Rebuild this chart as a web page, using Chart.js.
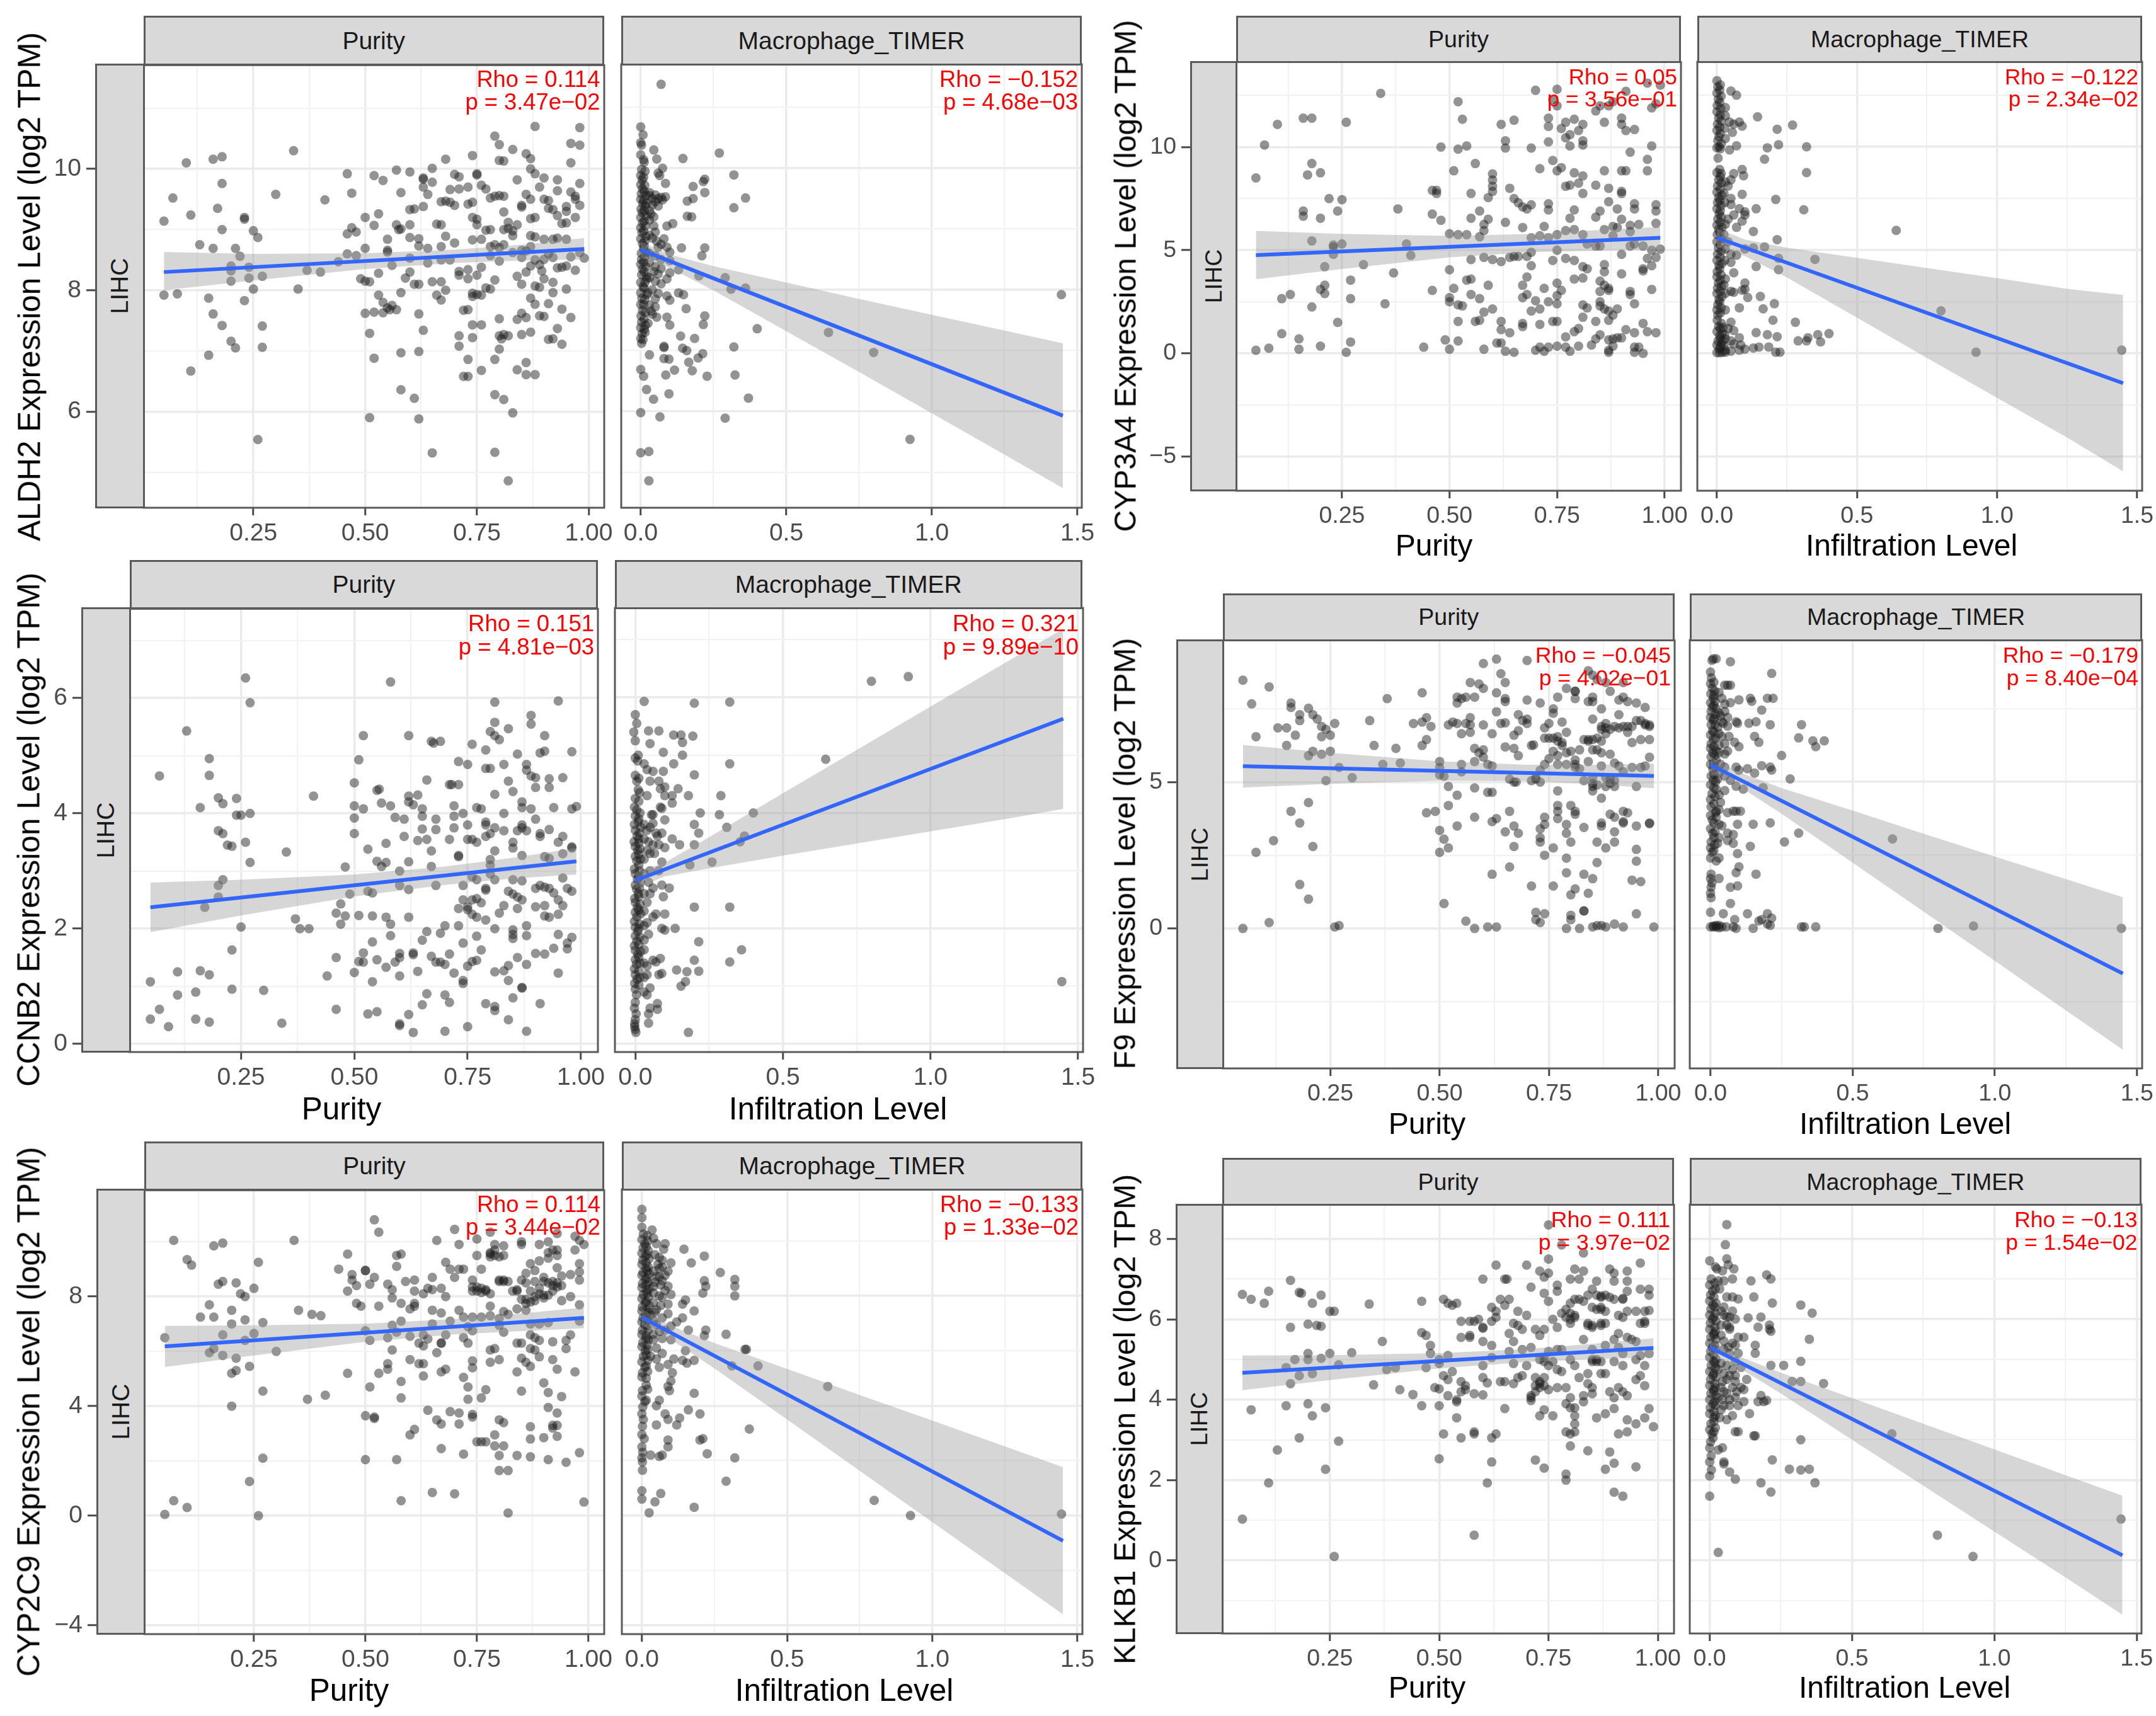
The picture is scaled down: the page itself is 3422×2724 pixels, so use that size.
<!DOCTYPE html>
<html>
<head>
<meta charset="utf-8">
<title>LIHC expression vs purity and macrophage infiltration</title>
<script src="https://cdn.jsdelivr.net/npm/chart.js@4"></script>
<style>
  html, body { margin: 0; background: #fff; }
  #page { position: relative; width: 3422px; height: 2724px; overflow: hidden; font-family: "Liberation Sans", Arial, sans-serif; }
  canvas { position: absolute; }
  .strip { position: absolute; box-sizing: border-box; background: #d9d9d9; border: 3px solid #5a5a5a; color: #1a1a1a; display: flex; align-items: center; justify-content: center; }
  .strip span.rot { transform: rotate(-90deg); white-space: nowrap; }
  .note { position: absolute; color: #ff0000; text-align: right; white-space: nowrap; }
  .title { position: absolute; color: #000; white-space: nowrap; transform: translate(-50%, -50%); }
  .title.rot { transform: translate(-50%, -50%) rotate(-90deg); }
</style>
</head>
<body>
<div id="page"></div>
<script>
// --- tick values and labels --------------------------------------------------
const purityTicks = [0.25, 0.5, 0.75, 1];
const purityTickLabels = ['0.25', '0.50', '0.75', '1.00'];
const purityMinor = [0.125, 0.375, 0.625, 0.875];
const macroTicks = [0, 0.5, 1, 1.5];
const macroTickLabels = ['0.0', '0.5', '1.0', '1.5'];
const macroMinor = [0.25, 0.75, 1.25];

const aldh2Ticks = [6, 8, 10], aldh2Minor = [5, 7, 9, 11];
const cyp3a4Ticks = [-5, 0, 5, 10], cyp3a4Minor = [-2.5, 2.5, 7.5, 12.5];
const ccnb2Ticks = [0, 2, 4, 6], ccnb2Minor = [1, 3, 5, 7];
const f9Ticks = [0, 5], f9Minor = [-2.5, 2.5, 7.5];
const cyp2c9Ticks = [-4, 0, 4, 8], cyp2c9Minor = [-2, 2, 6, 10];
const klkb1Ticks = [0, 2, 4, 6, 8], klkb1Minor = [-1, 1, 3, 5, 7];

// --- confidence band x positions --------------------------------------------
const purityBandX = [0.05, 0.25, 0.5, 0.7, 0.85, 0.99];
const macroBandX = [0, 0.1, 0.25, 0.5, 0.75, 1, 1.25, 1.45];

// --- ALDH2 -------------------------------------------------------------------
const aldh2PurityFit = [[0.05, 8.3], [0.99, 8.68]];
const aldh2PurityUpper = [8.63, 8.6, 8.61, 8.67, 8.75, 8.86];
const aldh2PurityLower = [8.0, 8.16, 8.35, 8.45, 8.49, 8.51];
const aldh2MacroFit = [[0, 8.66], [1.45, 5.93]];
const aldh2MacroUpper = [8.79, 8.58, 8.39, 8.12, 7.85, 7.59, 7.33, 7.12];
const aldh2MacroLower = [8.53, 8.36, 7.99, 7.32, 6.65, 5.97, 5.29, 4.74];
const aldh2Purity = [
[.05,9.14],[.07,9.52],[.1,10.1],[.11,9.24],[.16,10.16],[.18,10.2],[.18,9.76],[.17,9.35],[.18,9],[.13,8.75],[.16,8.69],[.23,9.2],[.23,9.17],[.25,8.98],[.26,8.87],[.21,8.69],[.22,8.56],[.2,8.4],[.2,8.32],[.24,8.38],[.24,8.2],[.27,8.23],[.2,8.15],[.25,8.02],[.05,7.92],[.08,7.94],[.15,7.87],[.23,7.83],[.16,7.61],[.18,7.42],[.27,7.41],[.2,7.16],[.21,7.05],[.27,7.06],[.15,6.93],[.11,6.67],[.26,5.54],
[.34,10.3],[.3,9.58],[.41,9.49],[.37,8.33],[.4,8.3],[.35,8.02],[.44,8.47],[.46,9.92],[.47,9.6],[.46,8.93],[.47,9.03],[.48,8.96],[.46,8.6],[.48,8.57],[.5,8.69],[.5,9.2],[.52,9.07],[.53,9.26],[.52,9.89],[.54,9.81],[.57,9.98],[.6,9.95],[.58,9.61],[.63,9.85],[.63,9.83],[.65,10.01],[.65,9.78],[.63,9.7],[.64,9.58],[.68,10.16],[.7,9.91],[.71,9.87],[.74,10.22],[.75,9.92],[.75,9.9],[.6,9.33],[.61,9.34],[.63,9.38],[.57,9.08],[.575,9],[.58,9.01],[.6,9.08],[.66,9.09],[.67,9.08],[.55,8.84],[.55,8.63],[.55,8.66],[.56,8.41],[.53,8.28],[.6,8.87],[.62,8.85],[.62,8.73],[.64,8.69],[.68,8.89],[.67,8.72],[.7,8.78],[.6,8.53],[.64,8.45],[.67,8.5],[.69,8.5],
[.6,8.3],[.59,8.2],[.61,8.1],[.62,8.1],[.49,8.19],[.5,8.15],[.51,8.14],[.53,7.92],[.54,7.8],[.55,7.71],[.56,7.75],[.555,7.68],[.57,7.68],[.58,7.96],[.5,7.62],[.52,7.64],[.54,7.63],[.62,7.61],[.51,7.29],[.63,7.34],[.58,6.97],[.62,6.99],[.52,6.88],[.58,6.36],[.61,6.22],[.51,5.9],[.62,5.88],[.65,5.32],[.65,8.14],[.67,8.14],[.68,8],[.66,7.92],[.67,7.84],
[.71,8.31],[.73,8.34],[.71,8.25],[.73,8.19],[.75,8.25],[.76,8.38],[.74,7.95],[.75,7.93],[.74,7.9],[.76,7.92],[.77,8.04],[.78,8.02],[.79,8.17],[.73,7.68],[.72,7.67],[.74,7.43],[.76,7.43],[.74,7.22],[.71,7.25],[.71,7.08],[.73,6.86],[.76,6.68],[.72,6.58],[.73,6.58],[.79,6.28],[.81,6.2],[.79,5.33],[.82,4.86],[.83,5.98],[.8,7.53],[.8,7.25],[.81,7.27],[.805,7.2],[.82,7.25],[.8,7.03],[.79,6.86],
[.79,10.54],[.8,10.4],[.83,10.32],[.8,10.14],[.81,10.13],[.86,10.25],[.87,10.17],[.88,10.7],[.98,10.68],[.96,10.42],[.98,10.39],[.96,10.1],[.87,10],[.88,9.92],[.9,9.85],[.93,9.82],[.84,9.82],[.98,9.76],[.74,9.2],[.75,9.17],[.75,9.08],[.73,9.42],[.74,9.45],[.69,9.66],[.71,9.67],[.73,9.7],[.67,9.46],[.69,9.45],[.68,9.47],[.7,9.4],[.76,9.73],[.77,9.67],[.78,9.52],[.79,9.55],[.8,9.56],[.81,9.55],[.81,9.29],[.85,9.4],[.85,9.37],[.87,9.5],[.86,9.58],[.89,9.7],[.9,9.5],[.91,9.48],[.93,9.64],[.91,9.35],[.92,9.33],[.93,9.23],[.95,9.38],[.97,9.5],[.98,9.4],[.97,9.2],[.95,9.11],[.87,9.18],[.88,9.2],[.84,9.08],[.81,9],[.82,9.02],[.77,8.99],[.78,9],[.74,8.83],[.76,8.84],[.78,8.72],[.81,8.75],[.83,8.9],[.87,8.9],[.88,8.88],[.9,8.84],[.92,8.84],[.93,8.86],[.95,8.84],[.85,8.66],[.87,8.72],[.78,8.57],[.8,8.48],[.85,8.54],[.9,8.51],[.92,8.54],[.93,8.37],[.94,8.38],[.95,8.4],[.97,8.33],[.99,8.53],[.87,8.4],[.895,8.32],[.84,8.23],[.85,8.1],[.88,8.07],[.89,8.05],[.9,8.19],[.92,8.13],[.92,7.96],[.95,8.02],[.87,7.87],[.88,7.77],[.91,7.78],[.94,7.69],[.96,7.55],[.85,7.62],[.86,7.55],[.84,7.52],[.89,7.58],[.9,7.57],[.85,7.27],[.87,7.31],[.93,7.37],[.91,7.19],[.92,7.2],[.94,7.11],[.86,6.81],[.84,6.69],[.86,6.61],[.88,6.61],
[.96,9.62],[.95,9.3],[.94,9.1],[.97,9.55],[.82,9.12],[.83,8.98],[.86,8.65],[.89,8.42],[.91,8.6],[.96,8.55],[.98,8.62],[.79,8.75],[.8,8.7],[.83,8.62],[.86,8.3],[.88,8.5]];
const aldh2Macro = [
[.07,11.38],[1.445,7.92],[.645,7.3],[.8,6.97],[.925,5.54],[.27,10.25],[.32,9.89],[.36,9.51],[.32,9.35],[.145,10.16],[.22,9.82],[.215,9.78],[.18,9.7],[.22,9.6],[.16,9.46],[.18,9.5],[.16,9.21],[.175,9.2],[.11,9.09],[.09,9.05],[.14,8.69],[.22,8.69],[.21,8.56],[.13,8.33],[.29,8.2],[.2,8.23],[.31,8.01],[.36,8.03],[.13,7.95],[.147,7.92],[.156,7.69],[.22,7.57],[.215,7.43],[.4,7.36],[.137,7.24],[.185,7.2],[.08,7.07],[.08,7.05],[.144,7.04],[.158,7],[.213,6.95],[.197,6.88],[.32,7.06],[.03,6.93],[.08,6.87],[.097,6.86],[.165,6.81],[.116,6.68],[.177,6.67],[.086,6.6],[.228,6.58],[.324,6.6],[0,6.69],[.01,6.58],[.02,6.36],[.044,6.2],[.097,6.29],[.37,6.22],[0,5.98],[.066,5.91],[.29,5.89],[0,5.32],[.028,5.34],[.028,4.86],
[0,10.68],[.008,10.55],[0,10.42],[.003,10.38],[.045,10.3],[.055,10.15],[0,10.22],[.01,10.14],[.075,10],[.06,9.92],[.065,9.88],[.003,9.98],[0,9.88],[.005,9.81],[.085,9.75],[0,9.73],[.006,9.66],[.002,9.58],[.03,9.6],[.05,9.56],[.07,9.52],[.085,9.53],[.04,9.5],[0,9.49],[.007,9.42],[.02,9.42],[.06,9.38],[.001,9.33],[.005,9.27],[.03,9.3],[0,9.19],[.03,9.15],[.006,9.1],[.045,9.05],[0,9.02],[.004,8.94],[.05,8.95],[.08,8.84],[.055,8.8],[0,8.84],[.006,8.76],[.01,8.68],[.09,8.7],[.1,8.62],[.002,8.6],[.05,8.56],[.003,8.5],[.07,8.5],[.1,8.48],[.03,8.45],[0,8.42],[.05,8.38],[.006,8.34],[.1,8.28],[.06,8.26],[.003,8.25],[.09,8.18],[.02,8.18],[0,8.12],[.05,8.14],[.008,8.05],[.04,8],[.06,7.94],[.09,7.9],[.1,7.83],[0,7.95],[.004,7.86],[.03,7.75],[.05,7.72],[0,7.76],[.04,7.6],[.006,7.66],[.09,7.55],[.001,7.57],[.003,7.47],[.1,7.42],[0,7.38],[.015,7.3],[.005,7.28],[0,7.2],[.003,7.12],[.008,7.18]];
const aldh2MacroStripe = [
[.012,10.1],[.015,9.95],[.01,9.85],[.014,9.72],[.012,9.62],[.018,9.55],[.01,9.47],[.016,9.38],[.012,9.3],[.018,9.22],[.012,9.13],[.016,9.05],[.01,8.97],[.018,8.88],[.014,8.8],[.012,8.72],[.02,8.62],[.014,8.55],[.01,8.46],[.018,8.38],[.012,8.3],[.02,8.22],[.015,8.12],[.012,8.03],[.02,7.92],[.014,7.84],[.01,7.76],[.016,7.63],[.012,7.52],[.016,7.42],[.012,7.35],[.03,9.55],[.04,9.4],[.05,9.45],[.06,9.5],[.075,9.48],[.035,9.25],[.045,9.2],[.03,8.9],[.04,8.85],[.06,8.7],[.07,8.75],[.03,8.6],[.045,8.3],[.07,8.35],[.03,8.2],[.07,8.1],[.025,7.95],[.05,7.85],[.035,7.65],[.055,7.55],[.025,7.45]];

// --- CYP3A4 ------------------------------------------------------------------
const cyp3a4PurityFit = [[0.05, 4.76], [0.99, 5.6]];
const cyp3a4PurityUpper = [5.94, 5.79, 5.69, 5.79, 5.98, 6.13];
const cyp3a4PurityLower = [3.59, 4.09, 4.65, 4.91, 4.98, 5.03];
const cyp3a4MacroFit = [[0, 5.6], [1.45, -1.45]];
const cyp3a4MacroUpper = [6.05, 5.51, 5.11, 4.62, 4.13, 3.64, 3.12, 2.82];
const cyp3a4MacroLower = [5.15, 4.71, 3.67, 1.72, -0.23, -2.16, -4.08, -5.72];
const cyp3a4Purity = [
[.05,8.5],[.07,10.1],[.1,11.1],[.16,11.4],[.18,11.4],[.26,11.2],[.34,12.6],[.17,8.65],[.18,9.2],[.2,8.75],[.22,7.5],[.25,7.45],[.16,6.9],[.16,6.65],[.2,6.55],[.24,6.9],[.18,5.45],[.23,5.25],[.23,5.15],[.25,5.3],[.23,4.8],[.21,4.2],[.3,4.3],[.27,3.55],[.37,3.9],[.21,3.3],[.2,3.1],[.21,2.9],[.11,2.65],[.13,2.85],[.18,2.25],[.27,2.65],[.35,2.4],[.24,1.5],[.11,.95],[.15,.7],[.27,.55],[.05,.15],[.08,.25],[.15,.2],[.2,.35],[.26,.05],[.38,7],[.4,5.3],[.41,4.75],[.44,.3],
[.46,7.9],[.47,7.9],[.47,7.75],[.46,6.75],[.48,6.45],[.46,3.05],[.49,.65],[.5,.2],[.52,.6],[.48,10],[.52,9.9],[.54,10.05],[.51,8.85],[.52,12.2],[.53,11.35],[.56,9.2],[.55,7.75],[.57,6.9],[.55,6.55],[.59,6.5],[.58,6.25],[.58,5.95],[.57,5.65],[.5,5.8],[.52,5.75],[.54,5.75],[.55,4.55],[.58,4.65],[.6,4.55],[.62,4.45],[.5,4.05],[.54,3.55],[.55,3.6],[.51,3.15],[.5,2.7],[.5,2.5],[.52,2.35],[.53,2.3],[.55,2.85],[.57,2.65],[.59,3.3],[.58,2],[.6,2.15],[.52,1.55],[.56,1.55],[.57,1.6],[.58,.2],[.62,1.55],[.62,1.15],[.64,1],[.61,.5],[.62,.5],[.63,.1],[.65,.05],
[.6,8.7],[.6,8.4],[.6,8.1],[.6,7.85],[.59,7.55],[.62,11.1],[.65,11.3],[.63,10.3],[.63,9.95],[.69,9.95],[.71,8.95],[.64,8],[.65,7.5],[.66,7.3],[.67,7.1],[.68,7],[.69,7.2],[.63,6.35],[.67,6.1],[.69,5.6],[.71,5.7],[.64,4.65],[.65,4.7],[.66,4.7],[.68,4.7],[.69,4.9],[.69,4.25],[.68,3.7],[.67,3.3],[.67,2.7],[.68,2.85],[.7,2.55],[.69,2.05],[.71,2.15],[.67,1.45],[.67,1.3],[.71,1.4],[.7,.15],[.71,.3],[.72,.1],[.73,.3],[.75,.35],[.77,.3],[.78,.1],
[.7,12.75],[.75,12.8],[.74,12.3],[.75,12],[.73,11.4],[.73,11],[.77,11.2],[.76,10.9],[.79,11.35],[.81,11.1],[.78,10.6],[.77,10.45],[.8,10.8],[.81,10.3],[.81,10.1],[.78,10.05],[.73,10.25],[.74,9.35],[.76,9],[.75,8.85],[.79,8.75],[.81,8.6],[.8,8.25],[.77,8.1],[.78,8.15],[.81,7.75],[.73,7.25],[.73,6.95],[.79,6.95],[.78,6.55],[.77,5.95],[.79,6],[.81,5.75],[.72,6.15],[.75,5.75],[.73,5.6],[.75,5],[.74,4.5],[.77,4.6],[.79,4.5],[.81,4.2],[.82,4.1],[.79,3.6],[.81,3.65],[.75,3.4],[.72,3.15],[.76,3.05],[.75,2.8],[.73,2.5],[.75,2.4],[.81,2.35],[.82,2.2],[.81,1.75],[.84,1.55],[.74,1.55],[.75,1.55],[.79,1.05],[.8,1.2],[.77,.8],[.84,.7],[.85,.9],[.83,.4],[.8,.35],
[.84,11.75],[.85,12],[.87,12],[.88,12.2],[.91,12.7],[.86,11.2],[.9,11.4],[.9,11.1],[.91,10.8],[.93,10.85],[.97,11.9],[.98,12.1],[.99,13],[.96,13.1],[.86,8.85],[.9,8.85],[.91,8.85],[.96,9.4],[.96,8.85],[.92,9.75],[.97,10.05],[.84,8.15],[.87,8],[.9,7.85],[.9,7.75],[.87,7.35],[.89,7],[.93,7.25],[.93,7],[.98,7.2],[.98,6.9],[.85,6.9],[.84,6.6],[.86,6],[.88,6.15],[.89,6.1],[.9,6.5],[.92,6.2],[.92,5.9],[.94,6.25],[.98,6.3],[.82,5.3],[.84,5.2],[.85,5.2],[.88,5.7],[.92,5.2],[.93,5.3],[.95,5.2],[.97,5],[.99,5.05],[.9,4.8],[.96,4.6],[.98,4.65],[.97,4.25],[.86,4.3],[.86,3.95],[.9,3.85],[.95,4],[.95,4.1],[.85,3.5],[.86,3.3],[.87,3.15],[.87,3.05],[.85,3],[.92,3],[.92,2.85],[.97,3.1],[.85,2.5],[.85,2.3],[.86,2.15],[.87,2.05],[.89,2.15],[.93,2.4],[.87,1.6],[.88,1.85],[.95,1.45],[.96,1.05],[.98,1],[.91,1.15],[.93,1],[.87,.65],[.88,.7],[.89,.75],[.9,.75],[.88,.35],[.87,.05],[.87,.15],[.93,.05],[.95,0],[.93,.3],[.94,.3]];
const cyp3a4Macro = [
[.64,5.95],[.8,2.05],[.925,.05],[1.445,.15],[.27,11.05],[.215,10.85],[.145,11.45],[.32,10],[.22,10.1],[.18,9.95],[.17,9.4],[.32,8.75],[.21,7.45],[.14,7],[.31,6.95],[.1,6.7],[.13,5.9],[.215,5.5],[.35,4.55],[.14,4.2],[.22,4.05],[.22,4.6],[.17,5.15],[.13,5.1],[.155,2.75],[.205,2.4],[.165,2.15],[.2,1.6],[.28,1.5],[.14,1],[.18,.9],[.215,.8],[.29,.6],[.32,.6],[.325,.75],[.36,.9],[.37,.55],[.4,.95],[.21,.05],[.225,.05],[.185,.3],[.15,.3],[.13,.25],[.1,.2],[.085,.4],[.08,.75],
[.05,12.7],[.07,12.5],[.03,11.9],[.045,11.2],[.06,11.1],[.08,11.2],[.09,11],[.055,10.7],[.03,10.4],[.07,10.05],[.045,9.85],[.09,8.9],[.095,8.6],[.06,8.7],[.05,8.4],[.04,8.1],[.09,7.7],[.05,7.5],[.05,7.2],[.08,7],[.1,6.85],[.06,6.7],[.04,6.5],[.09,6.4],[.07,6.1],[.1,5.05],[.04,5.4],[.05,4.8],[.07,4.75],[.05,4.4],[.06,3.9],[.03,3.6],[.1,3.4],[.1,3.1],[.05,3],[.06,2.95],[.09,3.05],[.11,2.7],[.08,2.2],[.03,2.1],[.05,1.5],[.04,1.2],[.06,1.1],[.03,.7],[.05,.6],[.08,.15],[.05,.1],[.03,.05],[.06,.45],
[0,13.2],[.003,12.9],[0,12.6],[.005,12.3],[.001,12],[0,11.7],[.006,11.4],[.002,11.1],[0,10.8],[.007,10.5],[.003,10.3],[0,9.95],[.008,10],[.004,9.45],[.01,8.9],[0,8.75],[.006,8.4],[.002,8.1],[0,7.8],[.006,7.55],[.002,7.3],[0,7],[.008,6.75],[.003,6.5],[0,6.2],[.006,6],[.001,5.75],[0,5.4],[.005,5.1],[.002,4.8],[0,4.5],[.007,4.25],[.001,3.95],[0,3.7],[.005,3.4],[.002,3.15],[0,2.9],[.007,2.6],[.003,2.35],[0,2.1],[.001,1.6],[.006,1.3],[0,1.05],[.01,.85],[.004,.6],[0,.4],[.008,.2],[0,.03],[.01,.02],[.02,.05],[.03,.15]];
const cyp3a4MacroStripe = [
[.012,13],[.01,12.75],[.015,12.45],[.01,12.15],[.014,11.85],[.012,11.55],[.015,11.25],[.01,10.95],[.012,10.65],[.016,10.15],[.012,9.9],[.015,8.7],[.012,8.55],[.016,8.25],[.012,7.95],[.018,7.65],[.01,7.4],[.015,7.15],[.012,6.9],[.016,6.6],[.012,6.35],[.018,6.1],[.01,5.85],[.015,5.55],[.012,5.25],[.016,4.95],[.012,4.65],[.018,4.35],[.01,4.1],[.015,3.8],[.012,3.55],[.016,3.25],[.012,3],[.018,2.75],[.01,2.5],[.015,2.2],[.012,1.95],[.003,1.85],[.016,1.45],[.012,1.2],[.018,.95],[.012,.7],[.016,.45],[.012,.3],[.02,.6],[.025,.35],[.028,.9],[.022,1.25],[.03,2.9],[.025,3.3],[.028,4.5],[.03,5.05],[.025,5.75],[.03,6.25],[.028,7.3],[.025,7.75],[.03,8.3],[.028,10.9],[.03,11.5]];

// --- CCNB2 -------------------------------------------------------------------
const ccnb2PurityFit = [[0.05, 2.37], [0.99, 3.17]];
const ccnb2PurityUpper = [2.8, 2.85, 2.94, 3.08, 3.23, 3.4];
const ccnb2PurityLower = [1.94, 2.23, 2.56, 2.76, 2.87, 2.94];
const ccnb2MacroFit = [[0, 2.83], [1.45, 5.63]];
const ccnb2MacroUpper = [2.97, 3.14, 3.58, 4.34, 5.09, 5.84, 6.59, 7.19];
const ccnb2MacroLower = [2.69, 2.9, 3.04, 3.26, 3.47, 3.68, 3.89, 4.07];
const ccnb2Purity = [
[.26,6.35],[.27,5.92],[.13,5.43],[.18,4.95],[.07,4.65],[.18,4.66],[.2,4.27],[.21,4.17],[.24,4.26],[.16,4.1],[.24,3.97],[.25,3.97],[.27,4],[.2,3.7],[.21,3.65],[.22,3.45],[.23,3.43],[.26,3.5],[.27,3.15],[.35,3.33],[.41,4.3],[.21,2.85],[.2,2.75],[.2,2.55],[.17,2.37],[.25,2.03],[.23,1.63],[.37,2.17],[.38,2],[.4,2],[.05,1.08],[.11,1.25],[.16,1.27],[.18,1.2],[.07,.6],[.11,.85],[.15,.9],[.23,.95],[.3,.93],[.05,.43],[.09,.3],[.15,.43],[.18,.38],[.34,.36],[.44,1.18],
[.58,6.28],[.52,5.35],[.62,5.35],[.51,4.93],[.5,4.53],[.55,4.4],[.555,4.42],[.5,4.13],[.52,4.08],[.56,4.18],[.58,4.13],[.5,3.92],[.5,3.65],[.53,3.38],[.57,3.48],[.59,3.93],[.61,3.9],[.61,3.6],[.48,3.07],[.55,3.17],[.56,3.08],[.57,3.15],[.62,3.16],[.6,3],[.54,2.62],[.53,2.65],[.49,2.6],[.47,2.43],[.46,2.27],[.48,2.22],[.51,2.23],[.54,2.22],[.47,2.08],[.57,2.2],[.58,2.08],[.62,2.2],[.58,1.88],[.6,2.75],[.62,2.68],[.54,1.77],[.52,1.58],[.46,1.5],[.51,1.43],[.52,1.42],[.55,1.46],[.5,1.24],[.57,1.33],[.59,1.42],[.6,1.5],[.6,1.57],[.63,1.55],[.63,1.58],[.6,1.18],[.54,1.08],[.64,1.26],[.46,.6],[.53,.52],[.55,.56],[.62,.51],[.6,.35],[.6,.32],[.63,.2],
[.62,4.3],[.64,4.32],[.62,4.2],[.63,4.15],[.65,4.08],[.65,3.95],[.66,4.58],[.67,5.25],[.675,5.22],[.69,5.25],[.65,3.73],[.68,3.9],[.68,3.72],[.66,3.55],[.64,3.53],[.67,3.35],[.67,3.08],[.71,3.55],[.68,2.75],[.71,4.5],[.715,4.5],[.73,4.5],[.72,4.13],[.72,3.95],[.72,3.75],[.74,4],[.75,3.8],[.75,3.55],[.76,3.55],[.77,3.5],[.73,3.27],[.73,3.25],[.76,5.2],[.73,4.9],[.75,4.85],[.66,1.95],[.65,1.8],[.69,1.92],[.7,2.05],[.73,2.05],[.67,1.52],[.68,1.42],[.69,1.42],[.7,1.38],[.71,1.56],[.74,1.75],[.72,1.23],[.74,1.1],[.74,1.05],[.66,.87],[.7,.85],[.65,.68],[.71,.72],[.7,.22],[.75,.3],
[.81,5.93],[.95,5.95],[.89,5.7],[.81,5.58],[.89,5.55],[.84,5.47],[.8,5.42],[.81,5.35],[.82,5.28],[.92,5.35],[.79,5.1],[.86,5.03],[.91,5.05],[.92,5.08],[.98,5.07],[.83,4.85],[.88,4.85],[.79,4.78],[.8,4.78],[.88,4.75],[.89,4.65],[.9,4.62],[.93,4.6],[.96,4.62],[.84,4.56],[.93,4.45],[.85,4.38],[.9,4.45],[.81,4.33],[.87,4.2],[.87,4.1],[.89,4.08],[.94,4.1],[.98,4.08],[.99,4.12],[.77,4.1],[.78,4.08],[.83,4],[.79,3.85],[.79,3.8],[.81,3.75],[.8,3.65],[.79,3.6],[.83,3.7],[.86,3.7],[.87,3.75],[.87,3.8],[.88,3.7],[.9,3.9],[.91,3.65],[.91,3.6],[.93,3.72],[.85,3.5],[.85,3.4],[.81,3.35],[.8,3.2],[.8,3.1],[.87,3.27],[.92,3.25],[.93,3.22],[.95,3.5],[.96,3.6],[.96,3.3],[.98,3.42],[.98,3.4],[.74,2.75],[.76,2.9],[.77,2.85],[.79,2.7],[.79,2.67],[.81,2.85],[.8,2.95],[.85,2.85],[.87,2.83],[.84,2.65],[.85,2.6],[.86,2.55],[.87,2.5],[.9,2.7],[.91,2.75],[.92,2.72],[.93,2.7],[.94,2.62],[.97,2.7],[.98,2.65],[.96,2.88],[.73,2.35],[.74,2.5],[.75,2.38],[.76,2.5],[.77,2.52],[.78,2.45],[.75,2.33],[.76,2.25],[.77,2.2],[.79,2.15],[.83,2.4],[.82,2.27],[.86,2.35],[.9,2.38],[.92,2.4],[.92,2.22],[.93,2.2],[.95,2.25],[.96,2.4],[.95,2.5],[.81,2],[.85,1.98],[.85,1.9],[.85,1.83],[.88,2.05],[.88,1.88],[.77,1.87],[.78,1.63],[.76,1.43],[.75,1.35],[.77,1.45],[.81,1.25],[.83,1.27],[.84,1.36],[.86,1.5],[.88,1.38],[.9,1.57],[.92,1.56],[.94,1.66],[.95,1.9],[.97,1.75],[.97,1.65],[.98,1.85],[.95,1.23],[.84,1.1],[.87,.98],[.87,.97],[.91,.7],[.79,.7],[.81,.65],[.81,.58],[.84,.42],[.85,.8],[.88,.22]];
const ccnb2Macro = [
[.8,6.28],[.925,6.36],[.645,4.93],[1.445,1.08],[.03,5.93],[.2,5.9],[.32,5.92],[.045,5.42],[.08,5.42],[.13,5.35],[.155,5.35],[.195,5.33],[.16,5.22],[.05,5.2],[.095,5.05],[.16,5],[.32,4.85],[.13,4.85],[.03,4.85],[.04,4.75],[.06,4.72],[.095,4.72],[.2,4.66],[.05,4.55],[.08,4.55],[.1,4.45],[.085,4.42],[.145,4.42],[.1,4.3],[.125,4.3],[.18,4.3],[.29,4.3],[.04,4.3],[.125,4.17],[.085,4.1],[.09,4.08],[.22,4],[.285,3.97],[.4,4],[.055,3.97],[.06,3.97],[.1,3.88],[.2,3.8],[.31,3.75],[.215,3.65],[.07,3.65],[.09,3.65],[.125,3.55],[.37,3.6],[.355,3.5],[.15,3.45],[.2,3.45],[.08,3.45],[.1,3.4],[.04,3.35],[.26,3.15],[.185,3.1],[.09,3.15],[.08,3],[.05,3],[.09,2.75],[.115,2.7],[.05,2.6],[.095,2.55],[.04,2.45],[.2,2.37],[.32,2.37],[.1,2.25],[.06,2.2],[.07,2.25],[.04,2.1],[.09,2],[.1,1.97],[.135,2],[.215,1.77],[.03,1.63],[.36,1.63],[.2,1.45],[.085,1.48],[.06,1.45],[.07,1.42],[.32,1.42],[.14,1.28],[.175,1.25],[.215,1.26],[.04,1.2],[.08,1.2],[.09,1.22],[.17,1.08],[.155,1],[.05,.97],[.03,.9],[.04,.85],[.075,.7],[.05,.62],[.075,.6],[.045,.52],[.045,.36],[.18,.2],
[0,5.7],[.005,5.55],[-.005,5.4],[0,5.25],[.01,5],[0,4.95],[.008,4.9],[0,4.65],[.005,4.55],[.01,4.4],[0,4.25],[-.003,4.1],[.005,4.05],[0,3.95],[.01,3.85],[-.003,3.8],[0,3.7],[.006,3.6],[.012,3.55],[-.004,3.5],[0,3.42],[.008,3.35],[0,3.25],[.005,3.17],[.012,3.1],[-.003,3.03],[0,2.95],[.007,2.85],[0,2.75],[.004,2.68],[.01,2.6],[-.002,2.52],[0,2.45],[.007,2.36],[0,2.28],[.005,2.2],[-.003,2.12],[0,2.02],[.008,1.95],[0,1.87],[.005,1.78],[-.003,1.7],[0,1.62],[.008,1.55],[0,1.46],[.004,1.38],[-.003,1.3],[0,1.2],[.006,1.12],[-.002,1.05],[0,.95],[.004,.85],[0,.72],[-.003,.62],[.003,.52],[0,.42],[-.002,.35],[0,.25],[.002,.2],[-.002,.3]];
const ccnb2MacroStripe = [
[.012,4.6],[.015,4.35],[.012,4.2],[.016,4],[.012,3.9],[.018,3.75],[.014,3.65],[.012,3.48],[.016,3.38],[.012,3.28],[.018,3.2],[.014,3],[.012,2.9],[.018,2.8],[.014,2.7],[.012,2.55],[.016,2.42],[.012,2.32],[.018,2.25],[.014,2.08],[.012,2],[.016,1.85],[.012,1.72],[.018,1.6],[.012,1.5],[.016,1.4],[.012,1.26],[.015,1.15],[.012,1.02],[.03,3.8],[.04,3.7],[.05,3.75],[.06,3.82],[.03,3.55],[.045,3.5],[.06,3.45],[.075,3.6],[.03,3.2],[.05,3.3],[.065,3.3],[.03,2.95],[.045,2.8],[.06,2.7],[.03,2.6],[.03,2.3],[.03,2.05],[.045,1.9],[.03,1.8],[.03,1.4],[.04,1.35],[.03,1.15]];

// --- F9 ----------------------------------------------------------------------
const f9PurityFit = [[0.05, 5.54], [0.99, 5.21]];
const f9PurityUpper = [6.27, 6, 5.71, 5.59, 5.59, 5.63];
const f9PurityLower = [4.81, 4.94, 5.05, 5.03, 4.93, 4.79];
const f9MacroFit = [[0, 5.58], [1.45, -1.54]];
const f9MacroUpper = [5.86, 5.33, 4.79, 4.02, 3.23, 2.45, 1.68, 1.06];
const f9MacroLower = [5.3, 4.85, 3.91, 2.24, 0.57, -1.11, -2.8, -4.14];
const f9Purity = [
[.05,8.48],[.07,7.67],[.11,8.25],[.08,6.55],[.16,7.7],[.16,7.55],[.18,7.3],[.18,7.1],[.2,7.52],[.21,7.3],[.22,7.15],[.13,6.85],[.15,6.85],[.17,6.6],[.15,6.25],[.23,6.9],[.24,6.8],[.23,6.55],[.25,6.6],[.26,7],[.2,5.9],[.21,6.05],[.23,5.95],[.25,6.05],[.27,5.5],[.24,5.05],[.3,5.15],[.34,7.1],[.38,7.85],[.35,6.25],[.4,6.15],[.37,5.6],[.41,5.65],[.2,4.3],[.16,4],[.18,3.6],[.12,3],[.08,2.6],[.21,2.8],[.18,1.5],[.2,1],[.05,0],[.11,.2],[.26,.05],[.27,.1],
[.46,8.05],[.44,7],[.46,7.05],[.47,7.2],[.48,6.9],[.46,6.25],[.47,6.45],[.47,3.95],[.49,4],[.5,5.7],[.5,5.5],[.5,5.25],[.51,5.2],[.52,4.85],[.54,4.55],[.52,4.2],[.5,3.35],[.51,3.05],[.52,2.75],[.5,2.6],[.54,3.5],[.51,.85],[.54,7.9],[.55,7.85],[.56,7.9],[.54,7.7],[.52,6.95],[.53,7.05],[.54,7],[.56,7],[.57,7.2],[.57,6.95],[.55,6.65],[.57,6.7],[.55,5.6],[.55,5.35],[.58,6.15],[.59,6],[.6,5.85],[.6,6.1],[.58,5.7],[.61,5.6],[.62,5.55],[.58,4.8],[.61,4.65],[.62,4.65],[.58,3.8],[.62,3.65],[.63,3.75],[.62,1.85],[.56,.25],[.58,0],[.61,.05],[.63,.05],
[.6,9.05],[.63,9.2],[.64,8.7],[.65,8.4],[.57,8.4],[.59,8.35],[.6,8.2],[.58,7.9],[.63,8.05],[.65,7.85],[.65,7.75],[.63,7.4],[.64,7],[.65,7.02],[.6,6.95],[.62,6.65],[.65,6.2],[.67,6.15],[.68,5.9],[.66,5.1],[.67,5],[.675,5],[.71,5.05],[.72,5.1],[.66,4],[.67,3.5],[.65,3.3],[.68,3.25],[.67,2.8],[.66,2.1],[.68,7.3],[.69,7.1],[.7,7.15],[.67,6.6],[.68,6.75],[.7,7],[.7,7.8],[.71,6.25],[.715,6.27],[.7,9.15],[.73,7.7],[.77,7.9],[.79,8.2],[.81,8.1],[.81,7.85],[.76,7.5],[.76,7.35],[.78,7.05],[.75,7],[.74,6.85],[.74,6.5],[.75,6.5],[.77,6.55],[.78,6.35],[.76,6.05],[.77,5.9],[.79,6],[.75,5.8],[.74,5.6],[.73,5.4],[.77,5.6],[.79,5.6],[.81,5.6],[.81,5.5],[.72,5.15],[.73,5],[.77,4.7],[.77,4.2],[.77,4],[.77,3.75],[.8,4.2],[.81,4],[.81,3.9],[.79,3.55],[.79,3.25],[.74,3.8],[.74,3.55],[.73,3.4],[.73,3.1],[.73,2.95],[.76,2.75],[.74,2.5],[.79,2.4],[.8,2.95],[.79,1.9],[.71,1.45],[.76,1.45],[.81,1.35],[.8,1.15],[.72,.55],[.74,.5],[.72,.3],[.73,.2],[.8,.45],[.8,.3],[.79,0],[.82,0],[.83,.6],
[.81,8.1],[.84,8.8],[.85,8.65],[.86,8.5],[.88,8.4],[.92,8.4],[.89,8.1],[.85,7.9],[.84,7.75],[.85,7.75],[.87,7.5],[.92,7.9],[.91,7.8],[.93,7.75],[.95,7.7],[.97,7.55],[.91,7.3],[.85,7.15],[.87,6.9],[.88,6.85],[.88,6.65],[.9,6.9],[.91,6.85],[.92,6.9],[.93,6.9],[.94,6.9],[.95,7.1],[.96,7.1],[.97,6.95],[.98,6.95],[.93,6.7],[.94,6.35],[.96,6.45],[.98,6.45],[.83,6.45],[.84,6.45],[.85,6.45],[.87,6.4],[.85,6.1],[.86,6.1],[.87,6],[.89,5.95],[.84,5.7],[.87,5.55],[.9,5.65],[.91,5.55],[.92,5.35],[.94,5.5],[.96,5.5],[.98,5.85],[.97,5.55],[.83,5.05],[.85,4.95],[.85,4.85],[.85,4.7],[.88,5.15],[.89,4.95],[.9,4.85],[.95,4.85],[.87,4.45],[.89,3.9],[.9,3.8],[.92,4],[.93,3.95],[.87,3.6],[.87,3.5],[.92,3.65],[.92,3.6],[.95,3.5],[.98,3.6],[.98,3.58],[.83,3.45],[.9,3.3],[.86,2.95],[.88,2.75],[.9,2.95],[.95,2.7],[.95,2.3],[.86,2.25],[.85,1.7],[.83,1.85],[.84,1.2],[.94,1.65],[.96,1.6],[.83,.6],[.95,.5],[.85,.05],[.86,.1],[.87,.1],[.88,.05],[.9,.15],[.92,.05],[.99,.05],
[.77,6.4],[.78,6.25],[.8,6.05],[.76,6.5],[.79,6.7],[.82,6.1],[.84,6.4],[.86,6.5],[.87,6.8],[.88,7],[.89,6.8],[.97,7],[.98,6.9],[.85,5.15],[.86,4.9],[.89,5.1],[.9,5.05],[.88,4.85],[.81,5.75],[.82,5.45]];
const f9Macro = [
[.64,3.05],[.8,0],[.925,.08],[1.445,0],[.07,9.1],[.215,8.7],[.02,9.2],[.005,9.15],[.01,9.2],[.06,8.3],[.05,8.3],[.07,8.3],[.2,7.85],[.22,7.85],[.14,7.85],[.145,7.75],[.1,7.8],[.07,7.7],[.18,7.45],[.21,6.95],[.05,7.4],[.06,7.2],[.095,7],[.09,7.05],[.135,7],[.16,7.05],[.32,6.95],[.31,6.5],[.36,6.4],[.37,6.2],[.4,6.4],[.155,6.55],[.17,6.35],[.085,6.35],[.1,6.2],[.25,5.9],[.28,5.1],[.18,5.55],[.21,5.5],[.215,5.4],[.13,5.45],[.155,5.3],[.1,5.4],[.09,5.5],[.07,5.05],[.09,4.85],[.115,4.75],[.185,4.8],[.05,4.7],[.08,4],[.105,4],[.09,4],[.06,3.95],[.04,3.5],[.095,3.55],[.15,3.55],[.21,3.6],[.31,3.25],[.26,2.95],[.06,3.25],[.08,3.2],[.06,3],[.08,2.9],[.14,2.8],[.095,2.55],[.03,2.4],[.1,2.1],[.09,1.9],[.16,1.85],[.07,1.4],[.095,1.45],[.03,1.7],[.07,.85],[.13,.5],[.2,.5],[.215,.35],[.17,.25],[.18,.3],[.045,.5],[.085,.3],[.09,0],[.15,0],[.2,.15],[.21,.1],[.32,.05],[.33,.05],[.37,.05],[.02,.05],[.04,.05],[.055,.05],[.08,.05],
[0,8.75],[.003,8.55],[0,8.35],[.006,8.2],[.001,8],[.01,7.85],[0,7.7],[.006,7.55],[.02,7.5],[.002,7.4],[.03,7.35],[0,7.2],[.01,7.1],[.04,7.05],[.002,6.95],[.025,6.85],[.007,6.75],[0,6.6],[.04,6.55],[.01,6.45],[.002,6.3],[.03,6.25],[0,6.15],[.008,6],[.05,5.95],[.002,5.85],[.02,5.75],[0,5.6],[.008,5.45],[.03,5.3],[.002,5.2],[.01,5.05],[0,4.9],[.02,4.75],[.005,4.6],[0,4.4],[.035,4.3],[.002,4.15],[.02,4],[0,3.85],[.006,3.7],[.03,3.55],[0,3.4],[.008,3.25],[.002,2.95],[0,2.75],[.006,2.6],[0,2.4],[.02,2.3],[.002,1.85],[0,1.7],[.005,1.55],[.002,1.4],[0,1.2],[.002,1.05],[0,.55],[.01,.05],[0,.05],[.03,.1]];
const f9MacroStripe = [
[.012,8.4],[.015,8.1],[.012,7.95],[.016,7.75],[.012,7.6],[.018,7.3],[.012,7.15],[.016,6.95],[.012,6.7],[.018,6.5],[.012,6.2],[.02,6.05],[.015,5.9],[.012,5.65],[.016,5.5],[.012,5.25],[.018,5],[.012,4.8],[.016,4.5],[.012,4.25],[.018,3.95],[.012,3.6],[.016,3.3],[.012,3.1],[.015,2.85],[.012,2.65],[.03,8.05],[.04,7.85],[.05,7.65],[.035,7.25],[.045,7],[.06,6.9],[.03,6.65],[.05,6.3],[.065,6.55],[.03,6],[.06,6.05],[.035,5.6],[.05,5.5],[.025,5.1],[.05,5.2],[.03,4.55],[.03,4.05],[.02,3.8],[.03,3.1],[.025,2.9],[.01,.08],[.02,.1],[.03,.02]];

// --- CYP2C9 ------------------------------------------------------------------
const cyp2c9PurityFit = [[0.05, 6.18], [0.99, 7.22]];
const cyp2c9PurityUpper = [6.93, 6.95, 7.01, 7.18, 7.38, 7.6];
const cyp2c9PurityLower = [5.43, 5.85, 6.35, 6.62, 6.74, 6.84];
const cyp2c9MacroFit = [[0, 7.22], [1.45, -0.92]];
const cyp2c9MacroUpper = [7.52, 6.91, 6.28, 5.34, 4.39, 3.46, 2.52, 1.76];
const cyp2c9MacroLower = [6.92, 6.41, 5.36, 3.5, 1.63, -0.24, -2.1, -3.6];
const cyp2c9Purity = [
[.05,6.5],[.07,10.05],[.1,9.35],[.11,9.15],[.16,9.85],[.18,9.95],[.17,8.45],[.18,8.55],[.21,8.5],[.22,8.1],[.23,8],[.25,8.3],[.26,9.25],[.34,10.05],[.13,7.25],[.15,7.7],[.16,7.25],[.2,7.5],[.2,7],[.23,7.15],[.27,7.05],[.18,6.6],[.23,6.4],[.25,6.65],[.15,5.95],[.16,6.1],[.18,5.85],[.21,5.75],[.21,5.3],[.2,5.2],[.24,5.45],[.3,6],[.27,4.55],[.2,4],[.35,7.5],[.38,7.35],[.4,7.3],[.37,4.25],[.41,4.4],[.27,2.1],[.24,1.25],[.07,.55],[.1,.3],[.05,.05],[.26,0],
[.44,9],[.46,9.55],[.47,8.8],[.47,8.6],[.46,8.2],[.48,8.4],[.48,7.75],[.49,7.65],[.5,8.95],[.5,8.95],[.52,8.7],[.51,8.45],[.5,6.75],[.51,6.4],[.46,5.2],[.51,4.7],[.5,3.65],[.52,3.6],[.52,3.55],[.5,2.05],[.52,10.8],[.53,10.35],[.55,8.45],[.56,8.25],[.53,7.65],[.56,7.95],[.58,7.75],[.55,6.5],[.56,6.95],[.57,6.7],[.56,6.05],[.55,5.55],[.55,5.35],[.53,5.2],[.57,9.5],[.58,9.55],[.57,9.1],[.59,8.55],[.61,8.6],[.61,8.2],[.63,8.1],[.64,8.3],[.65,8.25],[.58,7.1],[.6,7.55],[.61,7.65],[.61,7.75],[.6,6.55],[.62,6.3],[.63,6.2],[.63,6.6],[.64,6.45],[.6,5.7],[.63,5.55],[.62,5.55],[.63,5.1],[.58,4.9],[.58,4.3],[.64,3.85],[.61,3.15],[.6,2.95],[.57,2.05],[.58,.55],
[.65,8.7],[.67,8.3],[.68,8],[.65,7.5],[.67,7.4],[.69,7.1],[.65,7],[.67,6.3],[.66,5.95],[.67,6.3],[.68,6.6],[.65,.85],[.66,3.5],[.67,3.35],[.67,2.45],[.67,5.25],[.68,5.35],[.66,10.05],[.68,9.25],[.69,9],[.71,9.9],[.7,8.7],[.71,9],[.72,9],[.7,.8],[.7,10.45],[.69,3.8],[.71,3.75],[.71,3.35],[.72,5.05],[.72,2.25],[.71,7.5],[.72,7.25],[.73,6.9],[.73,6.3],[.72,6.5],[.74,8.2],[.74,8.6],[.75,8.35],[.75,9.5],[.74,7.25],[.74,6.75],[.74,5.65],[.74,5.4],[.73,4.7],[.73,4.25],[.74,3.7],[.74,3.6],[.75,2.7],[.76,2.7],[.77,2.7],[.76,4.3],[.77,4.6],[.75,10.1],[.76,9],[.78,9.6],[.78,9.45],[.79,9.7],[.79,9.9],[.81,9.85],[.81,9.5],[.77,8.2],[.76,8.15],[.78,8.1],[.78,7.65],[.76,7.25],[.78,7.3],[.8,7.2],[.8,8.6],[.81,8.55],[.82,8.55],[.81,7.45],[.82,7.35],[.78,6.05],[.79,6.1],[.78,5.6],[.8,5.7],[.8,6.95],[.81,6.7],[.8,3.5],[.81,3.4],[.79,2.95],[.79,2.55],[.81,2.55],[.8,2.2],[.8,1.65],[.82,1.65],[.82,.1],
[.78,10.35],[.83,8.2],[.84,8.2],[.85,8.6],[.86,8.5],[.85,10],[.85,9.9],[.89,9.9],[.91,10],[.93,10.3],[.92,9.7],[.93,9.5],[.97,10.2],[.98,10.05],[.99,9.9],[.97,9.7],[.87,9.2],[.89,9.3],[.91,9.4],[.93,9.05],[.98,9.2],[.98,8.9],[.94,8.75],[.96,8.8],[.98,8.6],[.88,8.55],[.9,8.55],[.92,8.4],[.93,8.35],[.87,8.2],[.85,7.9],[.86,7.75],[.88,7.85],[.9,7.95],[.91,8.05],[.94,7.85],[.96,8],[.98,7.7],[.84,7.55],[.86,7.5],[.87,7],[.89,7],[.91,7.05],[.98,7.1],[.96,6.6],[.95,6.4],[.95,6.1],[.92,6.35],[.85,6.3],[.84,6.3],[.87,6.6],[.88,6.5],[.89,6.4],[.87,6.1],[.88,6.05],[.89,5.8],[.85,5.75],[.86,5.6],[.87,5.45],[.84,5.25],[.92,5.7],[.93,5.35],[.97,5.25],[.9,4.85],[.91,4.5],[.94,4.35],[.85,4.55],[.91,3.95],[.93,3.75],[.92,3.3],[.93,3.3],[.92,3.2],[.87,3.25],[.87,2.8],[.9,2.85],[.93,2.9],[.84,2.2],[.87,2.15],[.91,2.05],[.95,1.95],[.98,2.3],[.99,.5],
[.74,8.35],[.75,8.2],[.76,8.3],[.77,8.25],[.8,8.55],[.81,8.6],[.84,8.25],[.9,8.7],[.91,8.5],[.92,8.55],[.93,8.5],[.89,8.3],[.88,8],[.9,8.05],[.92,8.2],[.94,8.4],[.86,7.9],[.87,7.8],[.89,8.1],[.79,9.5],[.8,9.45],[.91,9.6],[.93,9.7],[.86,8.85],[.88,8.95],[.78,9.55]];
const cyp2c9Macro = [
[.64,4.7],[.8,.55],[.925,0],[1.445,.05],[.145,9.7],[.215,9.45],[.17,9.2],[.27,8.85],[.32,8.6],[.32,8.35],[.32,8],[.215,8.55],[.22,8.35],[.21,8.1],[.15,7.85],[.14,7.7],[.18,7.45],[.14,7.2],[.12,7.05],[.16,6.75],[.22,6.75],[.215,6.55],[.29,6.6],[.36,6.05],[.355,6.05],[.15,6],[.14,5.65],[.18,5.65],[.155,5.55],[.31,5.45],[.4,5.45],[.105,5.2],[.1,4.9],[.09,4.7],[.095,4.55],[.18,4.45],[.06,4.2],[.05,4],[.16,3.85],[.2,3.7],[.13,3.55],[.12,3.3],[.08,3.7],[.09,3.5],[.05,3.3],[.37,3.15],[.21,2.8],[.2,2.75],[.09,2.75],[.09,2.5],[.07,2.2],[.03,2.2],[.06,2.15],[.225,2.25],[.32,2.1],[.29,1.25],[.065,.8],[.045,.5],[.18,.3],[.025,.1],
[0,11.15],[0,10.85],[0,10.5],[.035,10.4],[.04,10.1],[.05,9.9],[.08,9.9],[.075,9.7],[.07,9.3],[.09,8.9],[.1,9.2],[.06,9],[.05,8.7],[.07,8.55],[.08,8.2],[.04,8.35],[.06,8],[.05,7.5],[.09,7.7],[.09,7.35],[.03,7.3],[.04,7.1],[.1,6.9],[.06,6.7],[.04,6.4],[.1,6.4],[.05,6.1],[.07,5.9],[.11,5.7],[.09,5.5],[.03,5.8],
[.005,10.25],[0,10.05],[.01,9.9],[.004,9.75],[0,9.55],[.012,9.45],[.003,9.3],[0,9.15],[.014,9],[.004,8.85],[0,8.75],[.012,8.6],[.002,8.45],[0,8.3],[.016,8.2],[.005,8.05],[0,7.9],[.012,7.75],[.002,7.6],[0,7.45],[.015,7.35],[.004,7.2],[0,7.05],[.01,6.95],[.002,6.75],[0,6.6],[.014,6.45],[.003,6.3],[0,6.15],[.012,6],[.005,5.8],[0,5.6],[.01,5.4],[.002,5.2],[0,5.05],[.015,4.75],[.002,4.55],[0,4.35],[.01,4.15],[.003,3.95],[0,3.7],[.005,3.5],[.002,3.25],[0,2.95],[.008,2.8],[0,2.5],[.003,2.3],[0,2.1],[.002,1.95],[.002,1.65],[0,.9],[0,.6]];
const cyp2c9MacroStripe = [
[.018,10.2],[.02,10],[.015,9.8],[.022,9.65],[.018,9.5],[.025,9.35],[.015,9.2],[.022,9.05],[.018,8.9],[.025,8.8],[.018,8.65],[.022,8.5],[.015,8.4],[.025,8.25],[.018,8.1],[.022,7.95],[.015,7.8],[.025,7.65],[.018,7.5],[.022,7.4],[.015,7.25],[.02,7.1],[.018,6.9],[.022,6.75],[.015,6.55],[.022,6.4],[.018,6.2],[.02,6.05],[.015,5.85],[.02,5.65],[.015,5.45],[.02,5.25],[.015,5],[.02,4.6],[.015,4.2],[.045,9.5],[.06,9.4],[.055,9.15],[.07,9.05],[.04,8.9],[.06,8.7],[.08,8.75],[.045,8.5],[.065,8.4],[.09,8.35],[.04,8.1],[.07,7.95],[.1,8.05],[.04,7.75],[.065,7.65],[.045,7.4],[.07,7.2],[.05,6.95],[.08,6.75],[.04,6.6],[.07,6.45],[.05,5.7],[.06,5.4]];

// --- KLKB1 -------------------------------------------------------------------
const klkb1PurityFit = [[0.05, 4.67], [0.99, 5.29]];
const klkb1PurityUpper = [5.1, 5.11, 5.16, 5.26, 5.39, 5.53];
const klkb1PurityLower = [4.24, 4.49, 4.78, 4.94, 5.01, 5.05];
const klkb1MacroFit = [[0, 5.3], [1.45, 0.13]];
const klkb1MacroUpper = [5.48, 5.08, 4.67, 4.04, 3.4, 2.76, 2.12, 1.61];
const klkb1MacroLower = [5.12, 4.8, 4.15, 3, 1.86, 0.72, -0.42, -1.35];
const klkb1Purity = [
[.05,6.62],[.07,6.5],[.1,6.4],[.11,6.7],[.16,6.97],[.18,6.67],[.185,6.65],[.21,6.4],[.23,6.6],[.25,6.2],[.26,6.2],[.34,6.38],[.16,5.8],[.2,5.88],[.22,5.85],[.23,5.83],[.37,5.45],[.3,5.17],[.25,5.15],[.2,5.15],[.2,5],[.17,5],[.23,5.03],[.27,4.87],[.15,4.8],[.18,4.6],[.21,4.65],[.16,4.4],[.35,4.37],[.38,4.75],[.4,4.8],[.41,4.25],[.44,4.13],[.2,3.9],[.15,3.85],[.24,3.8],[.07,3.75],[.21,3.6],[.18,3.05],[.27,2.97],[.13,2.75],[.24,2.27],[.11,1.93],[.05,1.03],[.26,.1],
[.46,6.45],[.46,5.67],[.47,5.6],[.48,5.35],[.48,5.15],[.47,4.8],[.5,5],[.5,4.9],[.52,5.1],[.49,4.3],[.5,4.27],[.46,3.85],[.5,3.85],[.52,4.1],[.54,4],[.54,3.95],[.51,4.6],[.52,4.5],[.53,4.7],[.5,2.53],[.51,3.15],[.54,3.55],[.55,3.05],[.51,6.5],[.52,6.4],[.53,6.35],[.54,6.4],[.55,5.95],[.55,5.55],[.57,5.6],[.57,5.55],[.57,5.95],[.58,5.95],[.59,6],[.6,5.8],[.6,5.78],[.6,5.45],[.55,4.45],[.56,4.35],[.56,4.25],[.55,4.2],[.58,4.15],[.6,4.12],[.6,4.55],[.61,4.42],[.6,4.85],[.58,3.2],[.58,3.15],[.62,3.05],[.63,3.15],[.62,2.45],[.61,1.93],[.58,.63],
[.6,7],[.63,7.35],[.65,7],[.655,7],[.64,6.5],[.62,6.3],[.63,6.2],[.63,6.05],[.62,5.95],[.66,6.5],[.65,6.35],[.68,6.2],[.7,6.1],[.67,5.9],[.68,5.85],[.69,5.75],[.66,5.65],[.67,5.45],[.62,5.35],[.66,5.2],[.69,5.25],[.71,5.3],[.62,5.05],[.67,4.9],[.7,4.85],[.64,4.45],[.65,4.45],[.67,4.4],[.68,4.55],[.69,4.6],[.72,4.2],[.71,4.05],[.71,3.98],[.65,3.78],[.7,7.35],[.71,6.8],[.73,7.2],[.74,7.05],[.75,7.15],[.74,6.65],[.75,6.45],[.77,6.85],[.77,6.7],[.72,5.75],[.73,5.6],[.74,5.75],[.76,6],[.77,5.8],[.75,5.2],[.77,5.25],[.78,5.25],[.74,4.95],[.75,4.85],[.76,4.95],[.77,4.75],[.78,4.7],[.72,4.55],[.73,4.4],[.74,4.55],[.73,4.3],[.75,4.25],[.77,4.3],[.79,4.3],[.74,3.75],[.73,3.6],[.76,3.6],[.72,2.5],[.74,2.3],[.79,2.15],[.79,2],[.75,8.35],[.78,7.85],[.75,7.5],[.83,7.65],
[.79,6.05],[.8,6],[.8,5.9],[.81,6.05],[.78,6.15],[.79,6.25],[.8,6.4],[.81,6.5],[.82,6.5],[.8,7],[.82,7],[.81,7.25],[.83,7.2],[.84,6.6],[.85,6.75],[.86,6.95],[.85,6.3],[.87,6.55],[.88,6.6],[.87,6.25],[.88,6.2],[.89,6.55],[.84,5.9],[.85,5.8],[.87,5.9],[.88,5.9],[.83,5.5],[.85,5.25],[.88,5.35],[.8,5],[.81,4.85],[.85,5],[.86,4.95],[.87,4.95],[.84,4.65],[.87,4.65],[.88,4.65],[.82,4.55],[.84,4.4],[.85,4.3],[.85,4.15],[.83,4.1],[.83,3.95],[.8,4.05],[.79,3.9],[.8,3.8],[.81,3.8],[.81,3.6],[.81,3.4],[.79,3.2],[.8,3.15],[.81,3.2],[.8,2.85],[.84,2.73],[.86,3.55],[.88,3.65],[.89,2.7],[.88,2.27],[.9,2.42],[.9,1.7],[.92,1.6],[.95,2.33],[.9,3.78],[.91,3.15],[.93,3.2],[.95,3.4],[.97,3.55],[.99,3.33],[.93,3.5],[.98,3.78],[.89,7.25],[.9,7.15],[.93,7.2],[.93,6.95],[.96,7.4],[.9,6.95],[.93,6.7],[.96,6.75],[.98,6.75],[.98,6.6],[.9,6.5],[.91,6.1],[.92,6.5],[.93,6.2],[.95,6.2],[.97,6.2],[.98,6.22],[.92,6.05],[.96,5.9],[.97,5.95],[.9,5.5],[.91,5.65],[.93,5.55],[.94,5.5],[.95,5.45],[.91,5.3],[.92,5.15],[.96,5.1],[.98,5.15],[.95,5],[.9,4.95],[.92,4.85],[.97,4.85],[.89,4.2],[.9,4.05],[.91,4.3],[.92,4.2],[.93,4.1],[.96,4.6],[.95,4.5],[.97,4.35],
[.86,6.6],[.87,6.58],[.87,6.3],[.86,6.25],[.8,6.15],[.81,6.1],[.83,6.45],[.84,5.85],[.85,5.85],[.86,5],[.85,4.95],[.72,4.35],[.73,4.45],[.74,4.35],[.71,4.1],[.92,6.52],[.87,5.85],[.97,5.9],[.73,5],[.74,5.05]];
const klkb1Macro = [
[.64,3.15],[.8,.63],[.925,.1],[1.445,1.03],[.06,8.35],[.055,7.85],[.06,7.5],[.065,7.35],[.085,7.25],[.2,7.1],[.215,7],[.145,6.95],[.155,6.55],[.22,6.4],[.32,6.35],[.36,6.15],[.135,6.03],[.18,6.05],[.21,5.85],[.21,5.75],[.17,5.8],[.215,5.7],[.35,5.5],[.12,5.55],[.16,5.15],[.16,5.35],[.215,4.85],[.26,4.85],[.32,4.95],[.29,4.45],[.32,4.45],[.4,4.4],[.13,4.5],[.12,4.25],[.18,4.1],[.19,3.95],[.2,3.98],[.17,3.95],[.095,4.2],[.07,3.85],[.1,3.85],[.14,3.65],[.08,3.6],[.16,3.1],[.155,3.1],[.32,3],[.045,2.8],[.09,3.2],[.1,3.2],[.05,2.4],[.09,2.02],[.22,2.5],[.28,2.27],[.35,2.27],[.32,2.25],[.18,1.93],[.215,1.7],[.37,1.93],[0,1.6],[.03,.2],
[.0,7.45],[.02,7.3],[.025,7.25],[.045,7.2],[.03,6.95],[.05,6.95],[.08,7],[.035,6.75],[.06,6.55],[.08,6.55],[.1,6.5],[.05,6.3],[.08,6.2],[.06,6.05],[.09,6],[.04,5.85],[.07,5.8],[.1,5.55],[.1,5.15],[.05,5.45],[.08,5.4],[.065,5.3],[.09,4.95],[.11,4.8],[.03,4.75],[.06,4.5],[.09,4.45],[.11,4.3],[.05,4.2],[.03,4.05],[.07,4],[.12,3.95],[.04,3.75],[.06,3.5],[.03,2.75],[.05,2.45],[.07,2.2],
[.005,7],[0,6.85],[.01,6.7],[.003,6.6],[0,6.45],[.012,6.35],[.004,6.25],[0,6.1],[.01,6],[.002,5.9],[0,5.75],[.015,5.65],[.004,5.55],[0,5.4],[.01,5.3],[.003,5.2],[0,5.05],[.015,4.95],[.005,4.85],[0,4.7],[.012,4.6],[.003,4.5],[0,4.35],[.014,4.25],[.004,4.15],[0,4],[.012,3.9],[.002,3.8],[0,3.65],[.015,3.55],[.004,3.4],[0,3.25],[.012,3.05],[.003,2.95],[0,2.8],[.005,2.6],[0,2.45],[.006,2.25],[0,2.1],[.008,3.15],[.015,3.2]];
const klkb1MacroStripe = [
[.018,6.9],[.02,6.75],[.015,6.55],[.022,6.4],[.018,6.3],[.02,6.15],[.015,6.05],[.022,5.95],[.018,5.8],[.02,5.7],[.015,5.6],[.022,5.5],[.018,5.35],[.02,5.25],[.015,5.12],[.022,5],[.018,4.9],[.02,4.78],[.015,4.65],[.022,4.55],[.018,4.4],[.02,4.3],[.015,4.2],[.022,4.1],[.018,3.95],[.02,3.85],[.015,3.7],[.02,3.6],[.015,3.45],[.02,3.3],[.04,6.2],[.05,6.1],[.07,6.05],[.04,5.6],[.06,5.85],[.07,5.75],[.05,5.25],[.07,5.15],[.09,5.35],[.04,4.9],[.06,4.85],[.08,4.75],[.05,4.65],[.07,4.6],[.09,4.6],[.045,4.45],[.04,4.3],[.08,4.3],[.06,4.15],[.045,4],[.09,4.05],[.05,3.85],[.035,3.55]];

// --- layout of the six figures (pixels on the page) --------------------------
const figures = [
  { gene: 'ALDH2', fs: [39, 49.5, 36.3], stripTop: 25, top: 102, bottom: 806, stripLeft: 151, yTitle: [46, 455], xTitleY: null,
    ticks: aldh2Ticks, minor: aldh2Minor, yMin: 4.416, yMax: 11.71,
    purity: { left: 228, right: 958.5, xMin: 0.0046, xMax: 1.0346, titleX: 0, note: ['Rho = 0.114', 'p = 3.47e\u221202'], pts: aldh2Purity, fit: aldh2PurityFit, upper: aldh2PurityUpper, lower: aldh2PurityLower },
    macro: { left: 986, right: 1717, xMin: -0.067, xMax: 1.515, titleX: 0, note: ['Rho = \u22120.152', 'p = 4.68e\u221203'], pts: [...aldh2Macro, ...aldh2MacroStripe], fit: aldh2MacroFit, upper: aldh2MacroUpper, lower: aldh2MacroLower } },
  { gene: 'CYP3A4', fs: [37.5, 48, 35], stripTop: 25, top: 98, bottom: 779, stripLeft: 1889, yTitle: [1786, 438], xTitleY: 865,
    ticks: cyp3a4Ticks, minor: cyp3a4Minor, yMin: -6.66, yMax: 14.12,
    purity: { left: 1962, right: 2668, xMin: 0.004, xMax: 1.038, titleX: 2276, note: ['Rho = 0.05', 'p = 3.56e\u221201'], pts: cyp3a4Purity, fit: cyp3a4PurityFit, upper: cyp3a4PurityUpper, lower: cyp3a4PurityLower },
    macro: { left: 2694, right: 3400, xMin: -0.07, xMax: 1.518, titleX: 3034, note: ['Rho = \u22120.122', 'p = 2.34e\u221202'], pts: [...cyp3a4Macro, ...cyp3a4MacroStripe], fit: cyp3a4MacroFit, upper: cyp3a4MacroUpper, lower: cyp3a4MacroLower } },
  { gene: 'CCNB2', fs: [39, 49.5, 36.5], stripTop: 889, top: 965, bottom: 1670, stripLeft: 129, yTitle: [45, 1317], xTitleY: 1759,
    ticks: ccnb2Ticks, minor: ccnb2Minor, yMin: -0.14, yMax: 7.55,
    purity: { left: 205.6, right: 949, xMin: 0.004, xMax: 1.0375, titleX: 542, note: ['Rho = 0.151', 'p = 4.81e\u221203'], pts: ccnb2Purity, fit: ccnb2PurityFit, upper: ccnb2PurityUpper, lower: ccnb2PurityLower },
    macro: { left: 975.5, right: 1718, xMin: -0.069, xMax: 1.517, titleX: 1330, note: ['Rho = 0.321', 'p = 9.89e\u221210'], pts: [...ccnb2Macro, ...ccnb2MacroStripe], fit: ccnb2MacroFit, upper: ccnb2MacroUpper, lower: ccnb2MacroLower } },
  { gene: 'F9', fs: [37.5, 48, 35.5], stripTop: 941.5, top: 1016, bottom: 1696, stripLeft: 1867, yTitle: [1785, 1355], xTitleY: 1783,
    ticks: f9Ticks, minor: f9Minor, yMin: -4.78, yMax: 9.84,
    purity: { left: 1940.6, right: 2658, xMin: 0.0037, xMax: 1.0375, titleX: 2265, note: ['Rho = \u22120.045', 'p = 4.02e\u221201'], pts: f9Purity, fit: f9PurityFit, upper: f9PurityUpper, lower: f9PurityLower },
    macro: { left: 2682, right: 3400, xMin: -0.073, xMax: 1.518, titleX: 3024, note: ['Rho = \u22120.179', 'p = 8.40e\u221204'], pts: [...f9Macro, ...f9MacroStripe], fit: f9MacroFit, upper: f9MacroUpper, lower: f9MacroLower } },
  { gene: 'CYP2C9', fs: [39, 49.5, 36.3], stripTop: 1812, top: 1888, bottom: 2594, stripLeft: 153, yTitle: [45, 2241], xTitleY: 2682,
    ticks: cyp2c9Ticks, minor: cyp2c9Minor, yMin: -4.32, yMax: 11.88,
    purity: { left: 229, right: 959, xMin: 0.004, xMax: 1.0355, titleX: 554, note: ['Rho = 0.114', 'p = 3.44e\u221202'], pts: cyp2c9Purity, fit: cyp2c9PurityFit, upper: cyp2c9PurityUpper, lower: cyp2c9PurityLower },
    macro: { left: 987, right: 1718, xMin: -0.069, xMax: 1.517, titleX: 1340, note: ['Rho = \u22120.133', 'p = 1.33e\u221202'], pts: [...cyp2c9Macro, ...cyp2c9MacroStripe], fit: cyp2c9MacroFit, upper: cyp2c9MacroUpper, lower: cyp2c9MacroLower } },
  { gene: 'KLKB1', fs: [37.5, 48, 35.5], stripTop: 1838, top: 1912, bottom: 2593, stripLeft: 1866, yTitle: [1785, 2253], xTitleY: 2678,
    ticks: klkb1Ticks, minor: klkb1Minor, yMin: -1.815, yMax: 8.85,
    purity: { left: 1940, right: 2657, xMin: 0.004, xMax: 1.037, titleX: 2265, note: ['Rho = 0.111', 'p = 3.97e\u221202'], pts: klkb1Purity, fit: klkb1PurityFit, upper: klkb1PurityUpper, lower: klkb1PurityLower },
    macro: { left: 2682, right: 3398.6, xMin: -0.07, xMax: 1.517, titleX: 3023, note: ['Rho = \u22120.13', 'p = 1.54e\u221202'], pts: [...klkb1Macro, ...klkb1MacroStripe], fit: klkb1MacroFit, upper: klkb1MacroUpper, lower: klkb1MacroLower } },
];

const page = document.getElementById('page');
const FONT = '"Liberation Sans", Arial, sans-serif';
const RIGHT_GAP = 46, TOP_GAP = 30, BOTTOM_GAP = 72;

const panelBorder = {
  id: 'panelBorder',
  afterDatasetsDraw(chart) {
    const { ctx, chartArea: a } = chart;
    ctx.save();
    ctx.strokeStyle = '#5a5a5a';
    ctx.lineWidth = 3;
    ctx.strokeRect(a.left, a.top, a.right - a.left, a.bottom - a.top);
    ctx.restore();
  },
};

function div(cls, css, html) {
  const d = document.createElement('div');
  d.className = cls;
  Object.assign(d.style, css);
  if (html) d.innerHTML = html;
  page.append(d);
  return d;
}

const fmtY = (v) => String(v).replace('-', '\u2212');

function drawPanel(fig, p, opts) {
  const marginLeft = opts.isPurity ? p.left - fig.stripLeft + 80 : 44;
  const w = Math.round(marginLeft + (p.right - p.left) + RIGHT_GAP);
  const h = Math.round(TOP_GAP + (fig.bottom - fig.top) + BOTTOM_GAP);
  const canvas = document.createElement('canvas');
  canvas.width = w; canvas.height = h;
  canvas.style.left = (p.left - marginLeft) + 'px';
  canvas.style.top = (fig.top - TOP_GAP) + 'px';
  canvas.style.width = w + 'px'; canvas.style.height = h + 'px';
  page.append(canvas);

  const bandX = opts.isPurity ? purityBandX : macroBandX;
  const xMajor = opts.isPurity ? purityTicks : macroTicks;
  const xMinor = opts.isPurity ? purityMinor : macroMinor;
  const xLabels = opts.isPurity ? purityTickLabels : macroTickLabels;
  const isMajor = (list, v) => list.includes(v);
  const gridColor = (list) => (c) => (isMajor(list, c.tick.value) ? '#ebebeb' : '#f2f2f2');
  const gridWidth = (list) => (c) => (isMajor(list, c.tick.value) ? 3.5 : 2.2);
  const tickColor = (list) => (c) => (isMajor(list, c.tick.value) ? '#4a4a4a' : 'rgba(0,0,0,0)');
  const tickFont = { family: FONT, size: fig.fs[0] };
  const xy = ([x, y]) => ({ x, y });

  new Chart(canvas, {
    type: 'scatter',
    data: {
      datasets: [
        { data: p.pts.map(xy), pointRadius: 7.5, pointBorderWidth: 0, backgroundColor: 'rgba(25,25,25,.47)', order: 3 },
        { data: bandX.map((x, i) => ({ x, y: p.upper[i] })), showLine: true, borderWidth: 0, pointRadius: 0, fill: '+1', backgroundColor: 'rgba(153,153,153,.4)', order: 2 },
        { data: bandX.map((x, i) => ({ x, y: p.lower[i] })), showLine: true, borderWidth: 0, pointRadius: 0, fill: false, order: 2 },
        { data: p.fit.map(xy), showLine: true, borderColor: '#3366ff', borderWidth: 6, pointRadius: 0, order: 1 },
      ],
    },
    options: {
      responsive: false,
      animation: false,
      devicePixelRatio: 1,
      events: [],
      layout: { padding: { top: TOP_GAP, right: RIGHT_GAP, left: 0, bottom: 0 } },
      plugins: { legend: { display: false }, tooltip: { enabled: false }, title: { display: false } },
      scales: {
        x: {
          type: 'linear', min: p.xMin, max: p.xMax,
          afterBuildTicks: (s) => { s.ticks = [...xMajor, ...xMinor].map((value) => ({ value })); },
          afterFit: (s) => { s.height = BOTTOM_GAP; },
          border: { display: false },
          grid: { color: gridColor(xMajor), lineWidth: gridWidth(xMajor), tickColor: tickColor(xMajor), tickWidth: 3, tickLength: 12 },
          ticks: { color: '#4d4d4d', font: tickFont, padding: 6, maxRotation: 0, autoSkip: false,
            callback: (v) => (isMajor(xMajor, v) ? xLabels[xMajor.indexOf(v)] : '') },
        },
        y: {
          type: 'linear', min: fig.yMin, max: fig.yMax,
          afterBuildTicks: (s) => { s.ticks = [...fig.ticks, ...fig.minor].map((value) => ({ value })); },
          afterFit: (s) => { s.width = marginLeft; },
          border: { display: false },
          grid: {
            color: gridColor(fig.ticks), lineWidth: gridWidth(fig.ticks),
            tickColor: opts.isPurity ? tickColor(fig.ticks) : 'rgba(0,0,0,0)', tickWidth: 3,
            tickLength: opts.isPurity ? p.left - fig.stripLeft + 14 : 0,
          },
          ticks: { display: opts.isPurity, color: '#4d4d4d', font: tickFont, padding: 8, autoSkip: false,
            callback: (v) => (isMajor(fig.ticks, v) ? fmtY(v) : '') },
        },
      },
    },
    plugins: [panelBorder],
  });

  // facet strip on top and the red annotation
  const strip = div('strip', { left: p.left + 'px', top: fig.stripTop + 'px', width: (p.right - p.left) + 'px', height: (fig.top - fig.stripTop + 2) + 'px', fontSize: fig.fs[0] + 'px' });
  strip.textContent = opts.isPurity ? 'Purity' : 'Macrophage_TIMER';
  div('note', { right: (3422 - p.right + 6) + 'px', top: (fig.top + 6) + 'px', fontSize: fig.fs[2] + 'px', lineHeight: Math.round(fig.fs[2]) + 'px' }, p.note.join('<br>'));
  if (fig.xTitleY) {
    const t = div('title', { left: p.titleX + 'px', top: fig.xTitleY + 'px', fontSize: fig.fs[1] + 'px' });
    t.textContent = opts.isPurity ? 'Purity' : 'Infiltration Level';
  }
}

figures.forEach((fig) => {
  drawPanel(fig, fig.purity, { isPurity: true });
  drawPanel(fig, fig.macro, { isPurity: false });
  // row strip sits between the y ticks and the first panel
  const side = div('strip', { left: fig.stripLeft + 'px', top: (fig.top - 1) + 'px', width: (fig.purity.left - fig.stripLeft + 2) + 'px', height: (fig.bottom - fig.top + 2) + 'px', fontSize: fig.fs[0] + 'px' });
  side.innerHTML = '<span class="rot">LIHC</span>';
  const yt = div('title rot', { left: fig.yTitle[0] + 'px', top: fig.yTitle[1] + 'px', fontSize: fig.fs[1] + 'px' });
  yt.textContent = fig.gene + ' Expression Level (log2 TPM)';
});
</script>
</body>
</html>
